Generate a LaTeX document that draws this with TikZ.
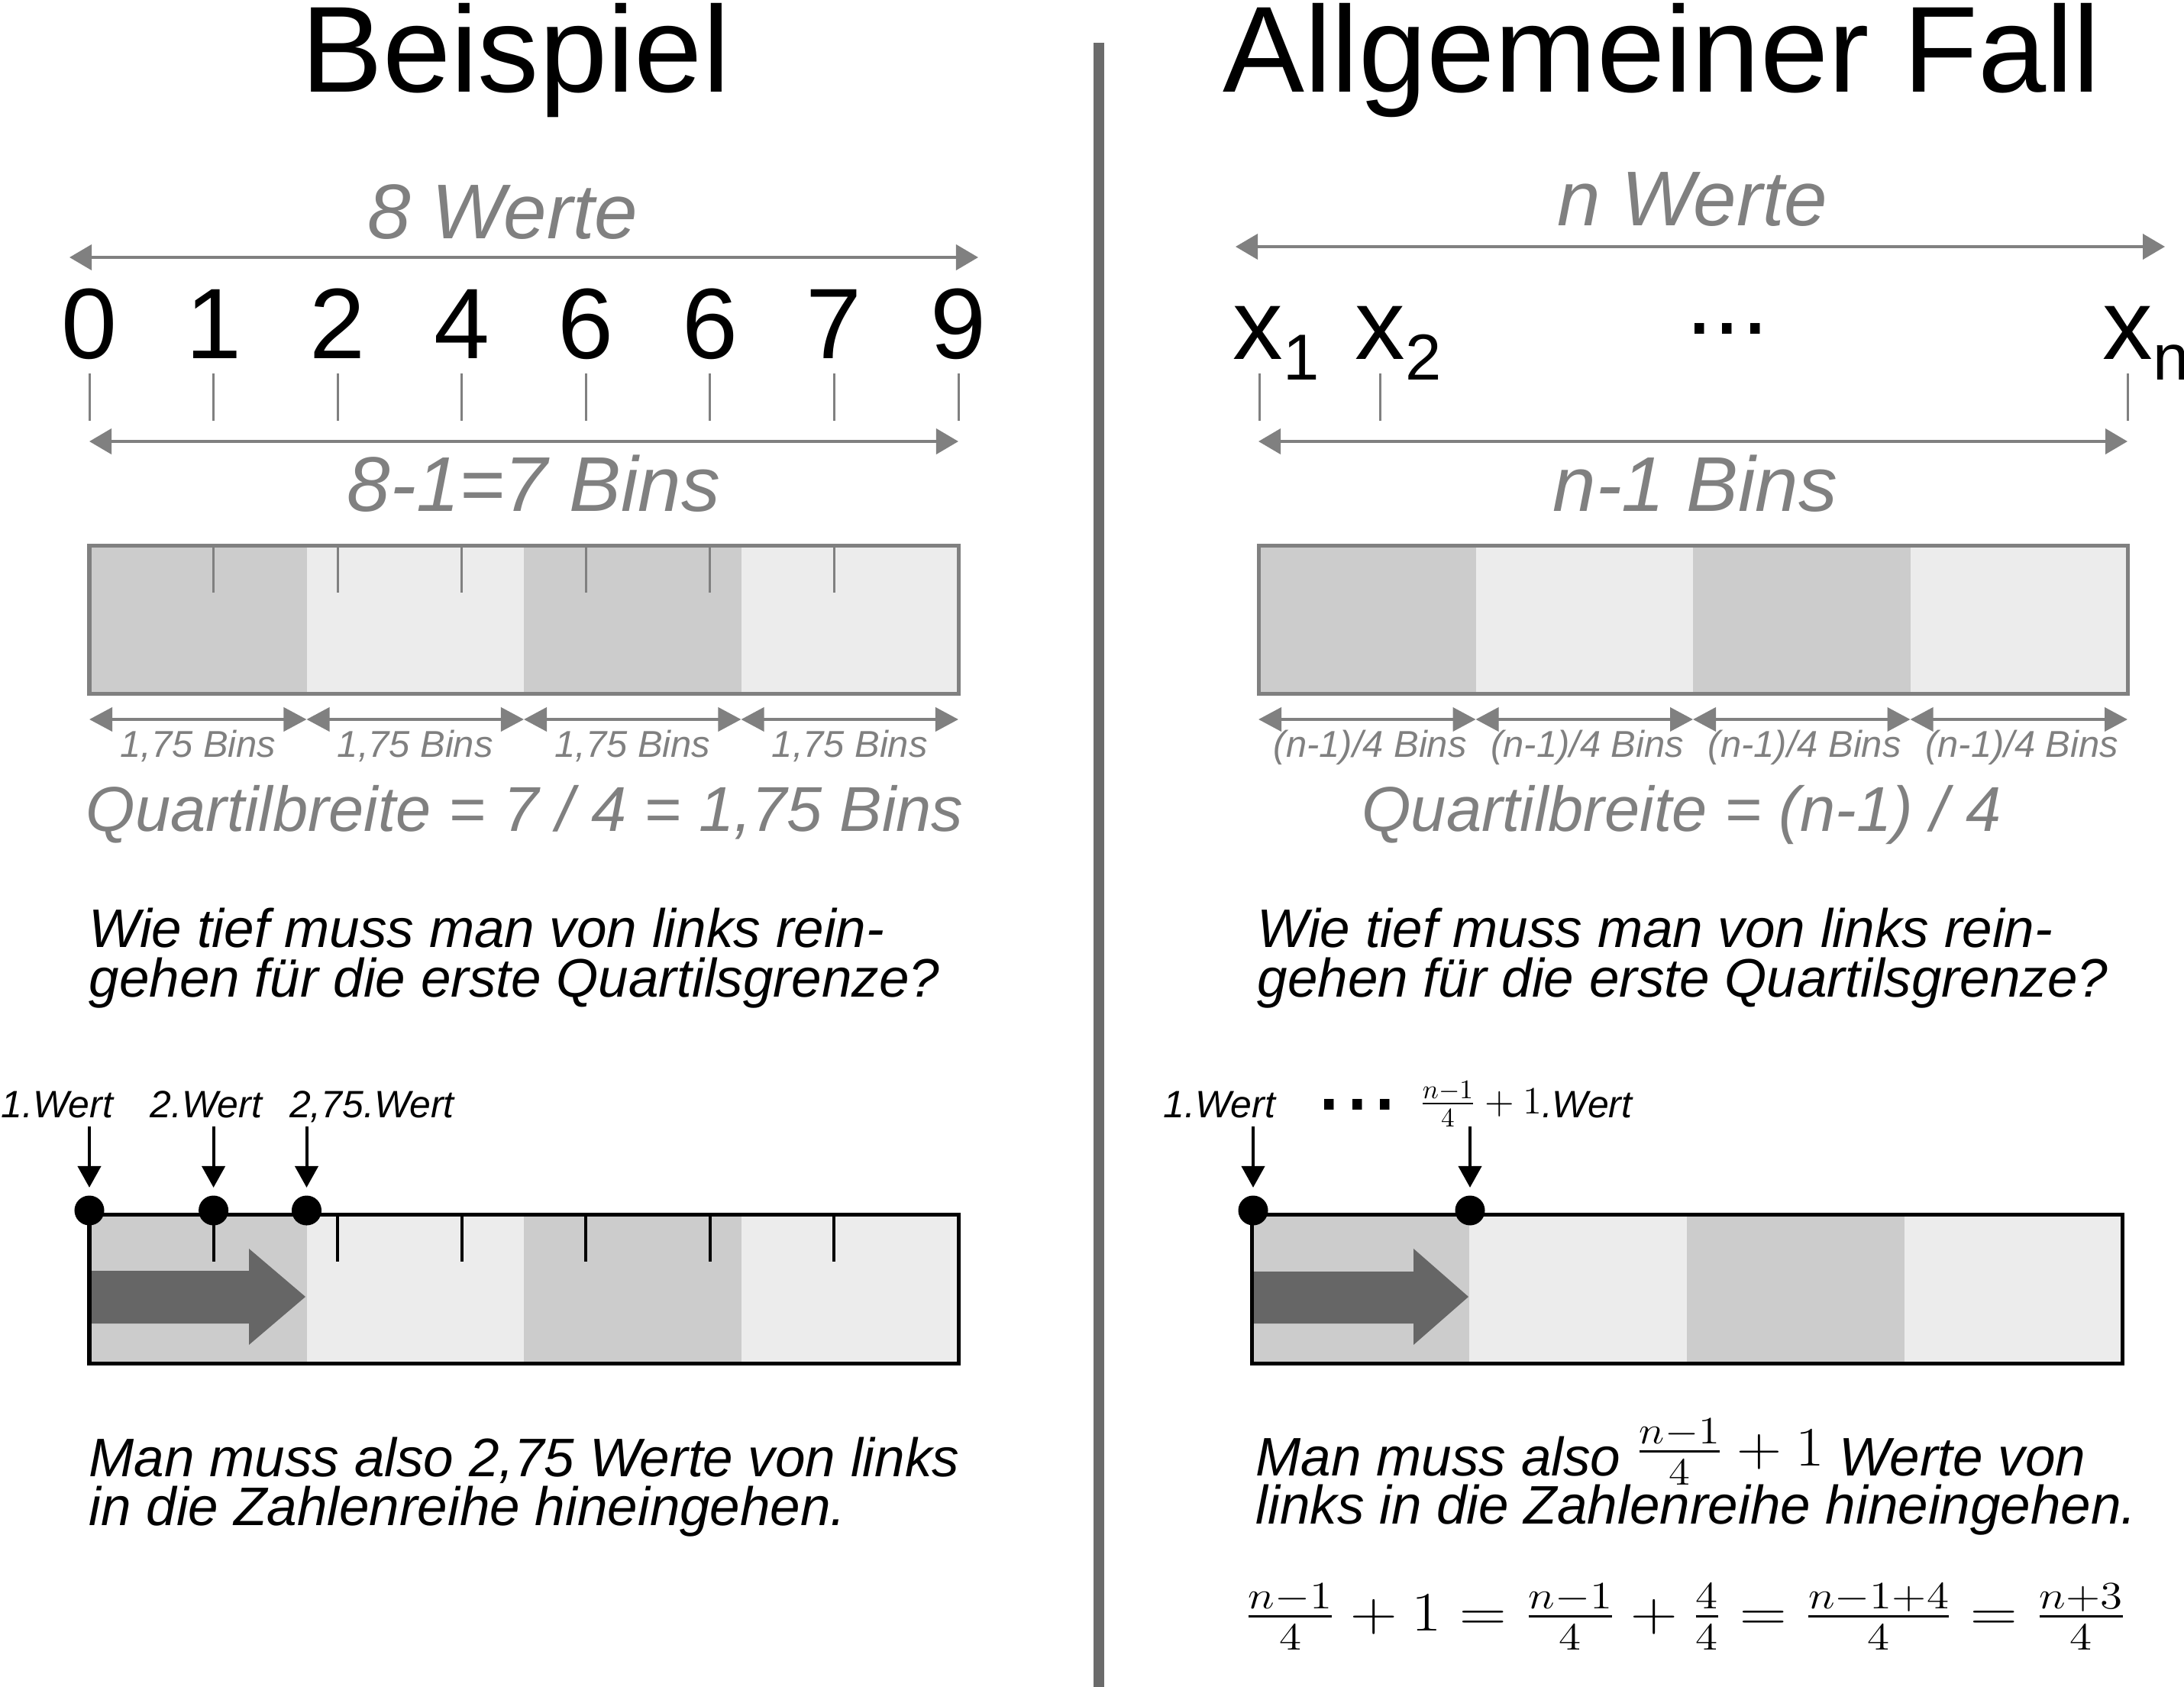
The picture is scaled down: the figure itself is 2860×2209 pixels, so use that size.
\documentclass[tikz,border=0pt]{standalone}
\usepackage[no-math]{fontspec}
\setmainfont{Liberation Sans}
\usepackage{amsmath}
\usetikzlibrary{arrows.meta}
\definecolor{linegray}{HTML}{808080}
\definecolor{bindark}{HTML}{CCCCCC}
\definecolor{binlight}{HTML}{ECECEC}
\definecolor{divgray}{HTML}{6B6B6B}
\definecolor{pushgray}{HTML}{666666}
\lineskiplimit=-100pt
\newcommand{\idx}[1]{\raisebox{-0.27cm}{\fontsize{24.2pt}{26pt}\selectfont #1}}

\begin{document}
\begin{tikzpicture}[x=0.01cm, y=-0.01cm,
  txt/.style={inner sep=0pt, anchor=base},
  titel/.style={txt, font=\fontsize{45.6pt}{50pt}\selectfont},
  wert/.style={txt, font=\fontsize{37.3pt}{40pt}\selectfont},
  kopf/.style={txt, text=linegray, font=\fontsize{28.9pt}{32pt}\selectfont\itshape},
  klein/.style={txt, text=linegray, font=\fontsize{13.9pt}{15pt}\selectfont\itshape},
  breite/.style={txt, text=linegray, font=\fontsize{23.6pt}{26pt}\selectfont\itshape},
  satz/.style={txt, anchor=base west, font=\fontsize{20.2pt}{22pt}\selectfont\itshape},
  marke/.style={txt, font=\fontsize{14.2pt}{16pt}\selectfont\itshape},
  massPfeil/.style={linegray, line width=0.04cm,
    {Triangle[length=0.29cm,width=0.33cm]}-{Triangle[length=0.29cm,width=0.33cm]}},
  binPfeil/.style={linegray, line width=0.04cm,
    {Triangle[length=0.3cm,width=0.31cm]}-{Triangle[length=0.3cm,width=0.31cm]}},
  zeiger/.style={black, line width=0.04cm, -{Triangle[length=0.28cm,width=0.3cm]}},
  punkt/.style={circle, fill=black, inner sep=0pt, minimum size=0.39cm},
  strich/.style={linegray, line width=0.03cm},
  rahmen/.style={line width=0.05cm},
  schub/.style={fill=pushgray}
]
\useasboundingbox (0,0) rectangle (2860,2209);

% Trennlinie
\draw[divgray, line width=0.14cm] (1439,56) -- (1439,2209);

%%% Linke Seite: Beispiel
\node[titel] (tA) at (675,121) {Beispiel};
\node[kopf] (wA) at (658,313) {8 Werte};
\coordinate (wA1) at (91,337);
\coordinate (wA2) at (1281,337);
\draw[massPfeil] (wA1) -- (wA2);

% Werte mit Strichen
\foreach \v [count=\i from 0] in {0,1,2,4,6,6,7,9} {
  \pgfmathsetmacro\xx{117+\i*1138/7}
  \node[wert] (v\i) at (\xx,469) {\v};
  \draw[strich] (\xx,489) -- (\xx,551);
}
\draw[massPfeil] (v0 |- 0,578) -- (v7 |- 0,578);
\node[kopf] (bA) at (699,669) {8-1=7 Bins};

% Quartile oben
\foreach \q/\farbe in {0/bindark,1/binlight,2/bindark,3/binlight}
  \fill[\farbe] ({117+\q*284.5},714) rectangle ({117+(\q+1)*284.5},908);
\foreach \i in {1,...,6}
  \draw[strich] ({117+\i*1138/7},714) -- ++(0,62);
\draw[linegray, rahmen] (117,714) rectangle (1255,908);
\foreach \q in {0,...,3} {
  \draw[binPfeil] ({117+\q*284.5},942) -- ({117+(\q+1)*284.5},942);
  \node[klein] (qA\q) at ({117+(\q+0.5)*284.5},991) {1,75 Bins};
}
\node[breite] (brA) at (687,1088) {Quartilbreite = 7 / 4 = 1,75 Bins};

\node[satz] (fA1) at (116,1240) {Wie tief muss man von links rein-};
\node[satz] (fA2) at (116,1305) {gehen für die erste Quartilsgrenze?};

% Quartile unten mit Pfeil
\foreach \q/\farbe in {0/bindark,1/binlight,2/bindark,3/binlight}
  \fill[\farbe] ({117+\q*284.5},1590) rectangle ({117+(\q+1)*284.5},1785);
\fill[schub] (117,1664) -- (326,1664) -- (326,1635) -- (400,1698)
  -- (326,1761) -- (326,1733) -- (117,1733) -- cycle;
\foreach \i in {1,...,6}
  \draw[black, line width=0.04cm] ({117+\i*1138/7},1590) -- ++(0,62);
\draw[black, rahmen] (117,1590) rectangle (1255,1785);

\node[punkt] (dA1) at (117,1585) {};
\node[punkt] (dA2) at (279.6,1585) {};
\node[punkt] (dA3) at (401.5,1585) {};
\node[marke] (mA1) at (75,1463) {1.Wert};
\node[marke] (mA2) at (270,1463) {2.Wert};
\node[marke] (mA3) at (487,1463) {2,75.Wert};
\foreach \d in {dA1,dA2,dA3}
  \draw[zeiger] (\d |- 0,1475) -- (\d |- 0,1555);

\node[satz] (sA1) at (116,1933) {Man muss also 2,75 Werte von links};
\node[satz] (sA2) at (116,1997) {in die Zahlenreihe hineingehen.};

%%% Rechte Seite: Allgemeiner Fall
\node[titel] (tB) at (2176,121) {Allgemeiner Fall};
\node[kopf] (wB) at (2216,296) {n Werte};
\coordinate (wB1) at (1618,323);
\coordinate (wB2) at (2835,323);
\draw[massPfeil] (wB1) -- (wB2);

\node[wert, anchor=base west] (x1) at (1614,470) {x\idx{1}};
\node[wert, anchor=base west] (x2) at (1774,470) {x\idx{2}};
\node[wert, anchor=base west] (xn) at (2753,470) {x\idx{n}};
\node[wert] (pkt) at (2262,437) {...};
\foreach \xx in {1649,1807,2786}
  \draw[strich] (\xx,489) -- (\xx,551);
\coordinate (bB1) at (1648,578);
\coordinate (bB2) at (2786,578);
\draw[massPfeil] (bB1) -- (bB2);
\node[kopf] (bB) at (2220,669) {n-1 Bins};

\foreach \q/\farbe in {0/bindark,1/binlight,2/bindark,3/binlight}
  \fill[\farbe] ({1648+\q*284.5},714) rectangle ({1648+(\q+1)*284.5},908);
\draw[linegray, rahmen] (1648,714) rectangle (2786,908);
\foreach \q in {0,...,3} {
  \draw[binPfeil] ({1648+\q*284.5},942) -- ({1648+(\q+1)*284.5},942);
  \node[klein] (qB\q) at ({1652+(\q+0.5)*284.5},991) {(n-1)/4 Bins};
}
\node[breite] (brB) at (2202,1088) {Quartilbreite = (n-1) / 4};

\node[satz] (fB1) at (1646,1240) {Wie tief muss man von links rein-};
\node[satz] (fB2) at (1646,1305) {gehen für die erste Quartilsgrenze?};

\foreach \q/\farbe in {0/bindark,1/binlight,2/bindark,3/binlight}
  \fill[\farbe] ({1639+\q*285},1590) rectangle ({1639+(\q+1)*285},1785);
\fill[schub] (1639,1665) -- (1851,1665) -- (1851,1635) -- (1923,1698)
  -- (1851,1761) -- (1851,1733) -- (1639,1733) -- cycle;
\draw[black, rahmen] (1639,1590) rectangle (2779,1785);

\node[punkt] (dB1) at (1641,1585) {};
\node[punkt] (dB2) at (1925,1585) {};
\node[marke] (mB1) at (1597,1463) {1.Wert};
\node[wert, anchor=base west] (pktB) at (1722,1453) {...};
\node[marke, anchor=base west] (mB2) at (1858,1463)
  {\raisebox{0.05cm}{$\frac{n-1}{4}+1$}.Wert};
\foreach \d in {dB1,dB2}
  \draw[zeiger] (\d |- 0,1475) -- (\d |- 0,1555);

\node[satz] (sB1) at (1644,1932)
  {Man muss also \raisebox{0.13cm}{\scalebox{1.12}[1]{$\frac{n-1}{4}+1$}} Werte von};
\node[satz] (sB2) at (1644,1995) {links in die Zahlenreihe hineingehen.};
\node[satz, font=\fontsize{20.4pt}{22pt}\selectfont] (glB) at (1629,2135)
  {\scalebox{1.17}[1]{$\frac{n-1}{4}+1=\frac{n-1}{4}+\frac{4}{4}=\frac{n-1+4}{4}=\frac{n+3}{4}$}};
\end{tikzpicture}
\end{document}
